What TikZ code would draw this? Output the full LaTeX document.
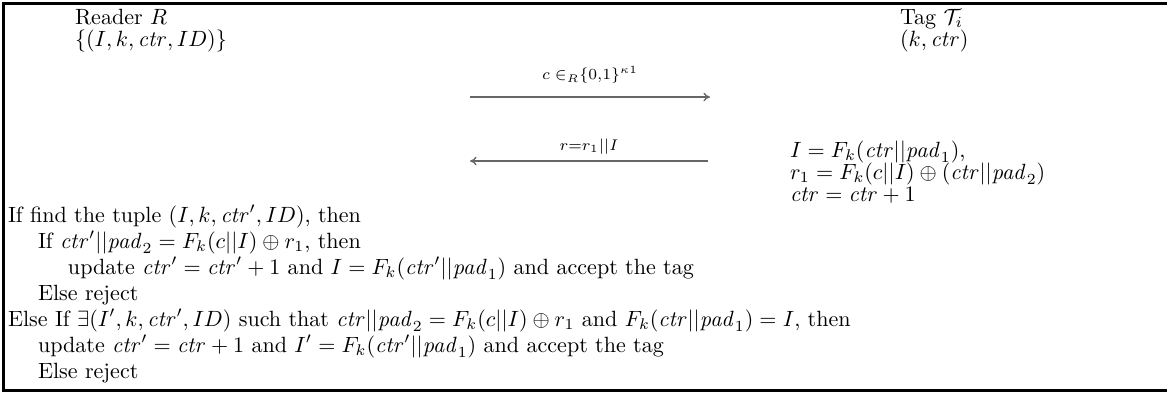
\documentclass[tikz,border=0pt]{standalone}
\usetikzlibrary{arrows.meta}
\newcommand{\vctr}{\mathit{ctr}}
\newcommand{\vpad}{\mathit{pad}}
\begin{document}
\begin{tikzpicture}[x=0.453pt,y=-0.453pt,
  txt/.style={anchor=base west, inner sep=0pt, outer sep=0pt},
  lab/.style={anchor=base, inner sep=0pt, outer sep=0pt},
  msg/.style={draw=black!60, line width=0.6pt, -{To[length=3pt,width=4pt]}},
  frame/.style={line width=1.3pt}]
\useasboundingbox (0,0) rectangle (1167,395);
\draw[frame] (1167,3.5) -- (3.5,3.5) -- (3.5,390.5) -- (1167,390.5);
% headers
\node[txt] (rd) at (75,24) {Reader $R$};
\node[txt] (rdset) at (75,46) {$\{(I,k,\vctr,ID)\}$};
\node[txt] (tg) at (900,24) {Tag $\mathcal{T}_i$};
\node[txt] (tgset) at (900,46) {$(k,\vctr)$};
% messages
\coordinate (a1s) at (470,97);
\coordinate (a1e) at (710,97);
\draw[msg] (a1s) -- (a1e) node[lab, midway, above=6pt] (l1) {$\scriptstyle c\;\in_R\{0{,}1\}^{\kappa1}$};
\coordinate (a2s) at (708,161);
\coordinate (a2e) at (470,161);
\draw[msg] (a2s) -- (a2e) node[lab, midway, above=3pt] (l2) {$\scriptstyle r=r_1||I$};
% tag computation
\node[txt] (t1) at (790,157) {$I = F_k(\vctr||\vpad_1)$,};
\node[txt] (t2) at (790,179) {$r_1 = F_k(c||I) \oplus (\vctr||\vpad_2)$};
\node[txt] (t3) at (790,201) {$\vctr = \vctr + 1$};
% reader verification
\node[txt] (v1) at (8,222) {If find the tuple $(I,k,\vctr',ID)$, then};
\node[txt] (v2) at (38,248) {If $\vctr'||\vpad_2 = F_k(c||I)\oplus r_1$, then};
\node[txt] (v3) at (68,274) {update $\vctr' = \vctr'+1$ and $I = F_k(\vctr'||\vpad_1)$ and accept the tag};
\node[txt] (v4) at (38,300) {Else reject};
\node[txt] (v5) at (8,326) {Else If $\exists(I',k,\vctr',ID)$ such that $\vctr||\vpad_2 = F_k(c||I)\oplus r_1$ and $F_k(\vctr||\vpad_1) = I$, then};
\node[txt] (v6) at (38,352) {update $\vctr' = \vctr+1$ and $I' = F_k(\vctr'||\vpad_1)$ and accept the tag};
\node[txt] (v7) at (38,378) {Else reject};
\end{tikzpicture}
\end{document}
